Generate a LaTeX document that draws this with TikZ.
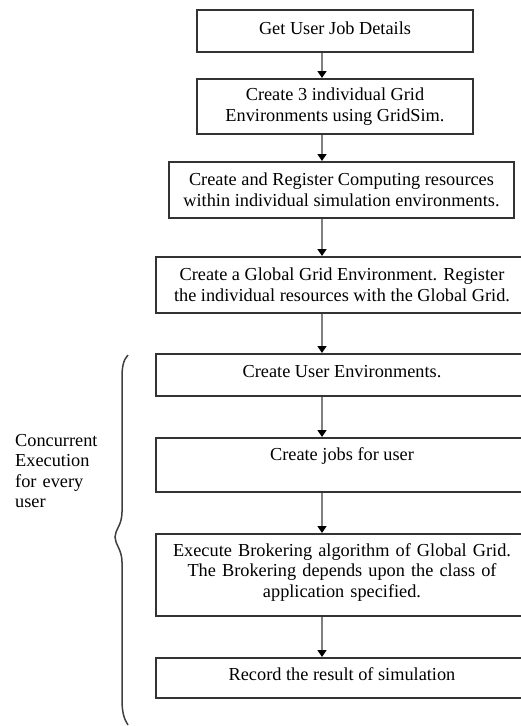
\documentclass[tikz,border=0pt]{standalone}
\usepackage{fontspec}
\setmainfont{Liberation Serif}
\usetikzlibrary{arrows.meta}
\begin{document}
\begin{tikzpicture}[x=1pt,y=-1pt,
  txt/.style={font=\fontsize{18.3}{20.5}\selectfont, text=black},
  box/.style={txt, draw=black!80, line width=2pt, rectangle, inner sep=0pt, align=center},
  flow/.style={draw=black!50, line width=1.6pt, -{Triangle[length=7pt,width=9pt,color=black]}},
  bracestyle/.style={draw=black!75, line width=1.5pt}]
\useasboundingbox (0,0) rectangle (521,726);
\fill[white] (0,0) rectangle (521,726);

\node[box, minimum width=276pt, text height=24pt, text depth=18pt] (b1) at (335,31) {Get User Job Details};
\node[box, minimum width=276pt, minimum height=55pt] (b2) at (335,106.5) {Create 3 individual Grid\\Environments using GridSim.};
\node[box, minimum width=345pt, minimum height=56pt] (b3) at (341.5,190) {Create and Register Computing resources\\within individual simulation environments.};
\node[box, minimum width=372pt, minimum height=56pt] (b4) at (342,285) {Create a Global Grid Environment. Register\\the individual resources with the Global Grid.};
\node[box, minimum width=372pt, text height=23pt, text depth=19pt] (b5) at (342,375) {Create User Environments.};
\node[box, minimum width=372pt, text height=22pt, text depth=32pt] (b6) at (342,465) {Create jobs for user};
\node[box, text width=372pt, text height=22pt, text depth=60pt] (b7) at (342,575) {Execute Brokering algorithm of Global Grid.\\The Brokering depends upon the class of\\application specified.};
\node[box, minimum width=372pt, text height=22pt, text depth=18pt] (b8) at (342,678) {Record the result of simulation};

\coordinate (ax) at (322,0);
\draw[flow] (b1.south -| ax) -- (b2.north -| ax);
\draw[flow] (b2.south -| ax) -- (b3.north -| ax);
\draw[flow] (b3.south -| ax) -- (b4.north -| ax);
\draw[flow] (b4.south -| ax) -- (b5.north -| ax);
\draw[flow] (b5.south -| ax) -- (b6.north -| ax);
\draw[flow] (b6.south -| ax) -- (b7.north -| ax);
\draw[flow] (b7.south -| ax) -- (b8.north -| ax);

\draw[bracestyle] (128,355) .. controls (123,360) and (122,368) .. (122,378) -- (122,512)
  .. controls (122,525) and (115,530) .. (115,537)
  .. controls (115,544) and (122,550) .. (122,562) -- (122,700)
  .. controls (122,712) and (124,719) .. (128,725);

\node[txt, anchor=base west, text width=100pt, align=left, inner sep=0pt] (lbl) at (15,446) {Concurrent\\Execution\\for every\\user};
\end{tikzpicture}
\end{document}
